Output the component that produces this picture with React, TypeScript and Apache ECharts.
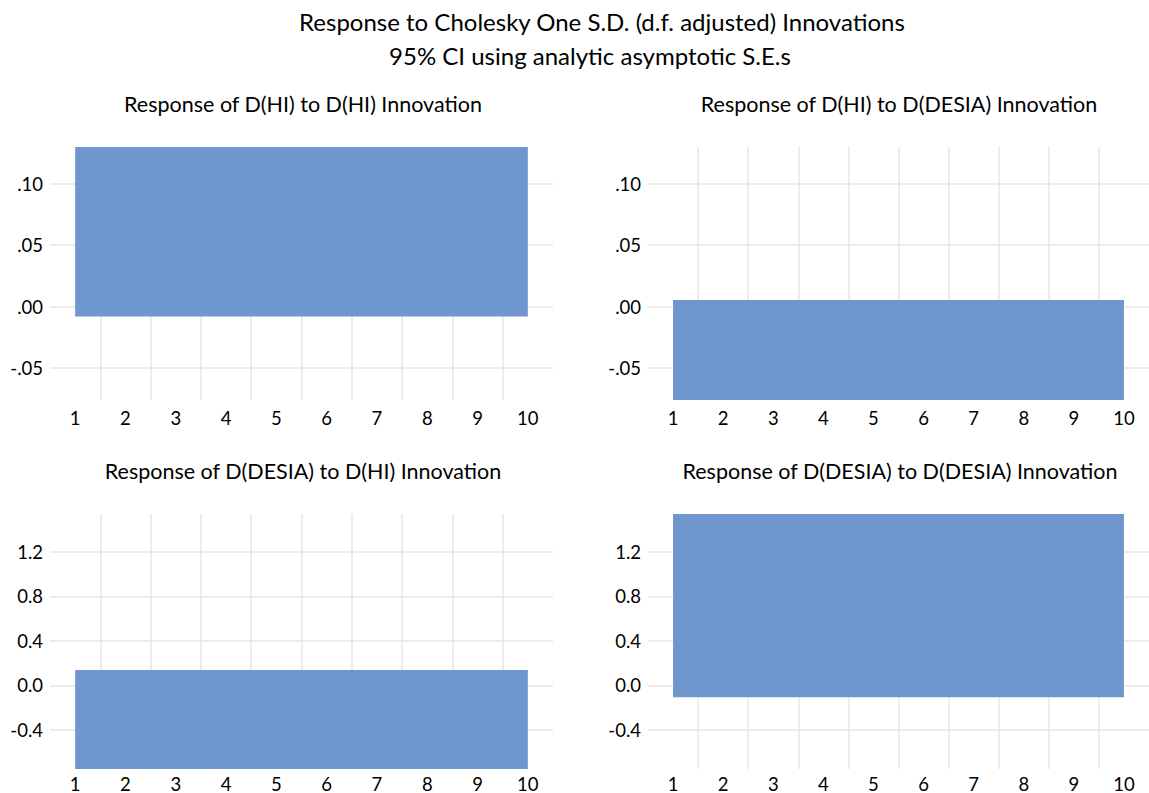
import React, { useEffect, useRef } from "react";
import * as echarts from "echarts";

const periods = ["1", "2", "3", "4", "5", "6", "7", "8", "9", "10"];

// Shaded 95% CI band for each panel (lower and upper bound per period)
const hiHiLower = [-0.0082, -0.0082, -0.0082, -0.0082, -0.0082, -0.0082, -0.0082, -0.0082, -0.0082, -0.0082];
const hiHiUpper = [0.135, 0.135, 0.135, 0.135, 0.135, 0.135, 0.135, 0.135, 0.135, 0.135];

const hiDesiaLower = [-0.08, -0.08, -0.08, -0.08, -0.08, -0.08, -0.08, -0.08, -0.08, -0.08];
const hiDesiaUpper = [0.0053, 0.0053, 0.0053, 0.0053, 0.0053, 0.0053, 0.0053, 0.0053, 0.0053, 0.0053];

const desiaHiLower = [-0.8, -0.8, -0.8, -0.8, -0.8, -0.8, -0.8, -0.8, -0.8, -0.8];
const desiaHiUpper = [0.139, 0.139, 0.139, 0.139, 0.139, 0.139, 0.139, 0.139, 0.139, 0.139];

const desiaDesiaLower = [-0.106, -0.106, -0.106, -0.106, -0.106, -0.106, -0.106, -0.106, -0.106, -0.106];
const desiaDesiaUpper = [1.6, 1.6, 1.6, 1.6, 1.6, 1.6, 1.6, 1.6, 1.6, 1.6];

const topAxisRange = [-0.076, 0.1297];
const bottomAxisRange = [-0.749, 1.538];

const mainTitle = "Response to Cholesky One S.D. (d.f. adjusted) Innovations";
const subTitle = "95% CI using analytic asymptotic S.E.s";
const panelTitles = [
  "Response of D(HI) to D(HI) Innovation",
  "Response of D(HI) to D(DESIA) Innovation",
  "Response of D(DESIA) to D(HI) Innovation",
  "Response of D(DESIA) to D(DESIA) Innovation",
];

const FONT = "Lato";
const BAND = "#7096ce";
const GRID = "#e6e6e6";

export default function App() {
  const ref = useRef<HTMLDivElement>(null);
  useEffect(() => {
    document.body.style.margin = "0";
    const chart = echarts.init(ref.current!, null, { renderer: "svg" });

    const grids = [
      { left: 50, top: 147, width: 503, height: 253 },
      { left: 648, top: 147, width: 501, height: 253 },
      { left: 50, top: 514, width: 503, height: 255 },
      { left: 648, top: 514, width: 501, height: 255 },
    ];
    const bands = [
      { lo: hiHiLower, up: hiHiUpper },
      { lo: hiDesiaLower, up: hiDesiaUpper },
      { lo: desiaHiLower, up: desiaHiUpper },
      { lo: desiaDesiaLower, up: desiaDesiaUpper },
    ];

    const fmtTop = (v: number) => v.toFixed(2).replace(/^(-?)0\./, "$1.");
    const fmtBottom = (v: number) => v.toFixed(1);

    const xAxis: any[] = [];
    const yAxis: any[] = [];
    const series: any[] = [];
    grids.forEach((g, i) => {
      const top = i < 2;
      xAxis.push({
        type: "category",
        gridIndex: i,
        data: periods,
        boundaryGap: true,
        axisLine: { show: false },
        axisTick: { show: false },
        axisLabel: { color: "#000", fontFamily: FONT, fontSize: 18.5, margin: top ? 8 : 5 },
        splitLine: { show: true, showMinLine: false, showMaxLine: false, lineStyle: { color: GRID, width: 1.5 } },
      });
      const r = top ? topAxisRange : bottomAxisRange;
      const step = top ? 0.05 : 0.4;
      yAxis.push({
        type: "value",
        gridIndex: i,
        min: r[0],
        max: r[1],
        minInterval: step,
        maxInterval: step,
        splitNumber: 4,
        axisLine: { show: false },
        axisTick: { show: false },
        axisLabel: {
          color: "#000",
          fontFamily: FONT,
          fontSize: 18.5,
          margin: 7,
          showMinLabel: false,
          showMaxLabel: false,
          formatter: top ? fmtTop : fmtBottom,
        },
        splitLine: { show: true, showMinLine: false, showMaxLine: false, lineStyle: { color: GRID, width: 1.5 } },
      });
      const b = bands[i];
      const stackId = "band" + i;
      series.push({
        type: "line",
        xAxisIndex: i,
        yAxisIndex: i,
        stack: stackId,
        stackStrategy: "all",
        symbol: "none",
        lineStyle: { width: 0, opacity: 0 },
        data: b.lo,
        silent: true,
      });
      series.push({
        type: "line",
        xAxisIndex: i,
        yAxisIndex: i,
        stack: stackId,
        stackStrategy: "all",
        symbol: "none",
        lineStyle: { width: 0, opacity: 0 },
        areaStyle: { color: BAND, opacity: 1 },
        data: b.up.map((u, k) => u - b.lo[k]),
        silent: true,
      });
    });

    const titleCenters = [303, 899, 303, 900];
    const titleYs = [104, 104, 471, 471];
    const graphic: any[] = [
      {
        type: "text",
        x: 602,
        y: 21,
        style: { text: mainTitle, fontFamily: FONT, fontSize: 24, fill: "#000", align: "center", verticalAlign: "middle" },
      },
      {
        type: "text",
        x: 590,
        y: 55,
        style: { text: subTitle, fontFamily: FONT, fontSize: 24, fill: "#000", align: "center", verticalAlign: "middle" },
      },
      ...panelTitles.map((t, i) => ({
        type: "text",
        x: titleCenters[i],
        y: titleYs[i],
        style: { text: t, fontFamily: FONT, fontSize: 21.5, fill: "#000", align: "center", verticalAlign: "middle" },
      })),
    ];

    chart.setOption({
      animation: false,
      backgroundColor: "#fff",
      grid: grids,
      xAxis,
      yAxis,
      series,
      graphic,
    });
    return () => chart.dispose();
  }, []);
  return <div ref={ref} style={{ width: 1149, height: 793 }} />;
}
